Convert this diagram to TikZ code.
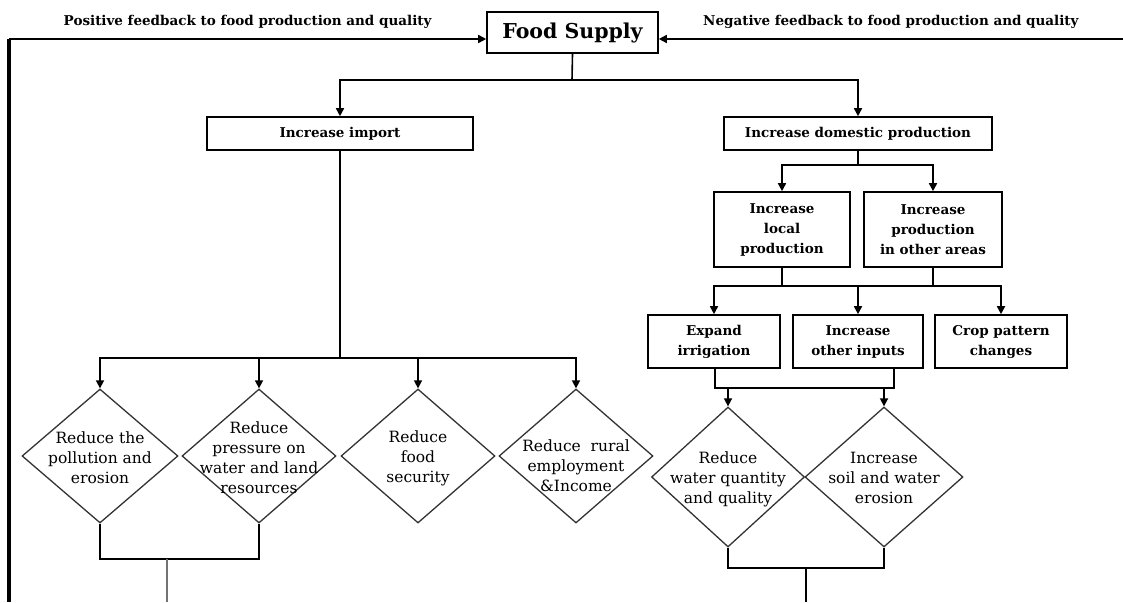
\documentclass[tikz,border=0pt]{standalone}
\usepackage{fontspec}
\setmainfont{DejaVu Serif}
\usetikzlibrary{shapes.geometric,arrows.meta,positioning}
\definecolor{stubgrey}{gray}{0.45}
\tikzset{
  box/.style={draw,line width=1.6pt,inner sep=0pt,align=center,font=\fontsize{13.5}{20}\selectfont\bfseries},
  dia/.style={draw=black!80,line width=1.3pt,diamond,inner sep=0pt},
  dtext/.style={inner sep=0pt,align=center,font=\fontsize{15.5}{20}\selectfont},
  fbtext/.style={inner sep=0pt,font=\fontsize{13.5}{15}\selectfont\bfseries},
  wire/.style={line width=1.6pt},
  arr/.style={wire,-{Triangle[length=8pt,width=8pt]}},
}
\begin{document}
\begin{tikzpicture}[x=1pt,y=-1pt]
	\useasboundingbox (0,0) rectangle (1123,602);

	\node[box,minimum width=171pt,minimum height=41pt,font=\fontsize{20.5}{24}\selectfont\bfseries] (food) at (572.5,32.5) {Food Supply};

	\coordinate (fbl) at (9,39);
	\coordinate (fbb) at (9,602);
	\coordinate (fbr) at (1123,39);
	\draw[line width=3.5pt] (fbb) -- (fbl);
	\draw[arr] (fbl) -- (fbl -| food.west) node[fbtext,midway,yshift=17pt] {Positive feedback to food production and quality};
	\draw[arr] (fbr) -- (fbr -| food.east) node[fbtext,midway,yshift=17pt] {Negative feedback to food production and quality};

	\node[box,minimum width=266pt,minimum height=33pt] (imp) at (340,133.5) {Increase import};
	\node[box,minimum width=268pt,minimum height=33pt] (dom) at (858,133.5) {Increase domestic production};
	\coordinate (br1) at (572,80);
	\draw[wire] (food.south) -- (br1);
	\draw[arr] (br1) -| (imp.north);
	\draw[arr] (br1) -| (dom.north);

	\node[box,minimum width=136pt,minimum height=75pt] (loc) at (782,229.5) {Increase\\local\\production};
	\node[box,minimum width=138pt,minimum height=75pt] (oth) at (933,229.5) {Increase\\production\\in other areas};
	\coordinate (br2) at (858,165);
	\draw[wire] (dom.south) -- (br2);
	\draw[arr] (br2) -| (loc.north);
	\draw[arr] (br2) -| (oth.north);

	\node[box,minimum width=132pt,minimum height=53pt] (irr) at (714,341.5) {Expand\\irrigation};
	\node[box,minimum width=130pt,minimum height=53pt] (inp) at (858,341.5) {Increase\\other inputs};
	\node[box,minimum width=132pt,minimum height=53pt] (crop) at (1001,341.5) {Crop pattern\\changes};
	\coordinate (br3) at (858,286);
	\draw[wire] (loc.south) -- (loc.south |- br3);
	\draw[wire] (oth.south) -- (oth.south |- br3);
	\draw[arr] (br3) -| (irr.north);
	\draw[arr] (br3) -- (inp.north);
	\draw[arr] (br3) -| (crop.north);

	\node[dia,minimum width=153pt,minimum height=140pt] (wq) at (728,477) {};
	\node[dia,minimum width=158pt,minimum height=140pt] (se) at (884,477) {};
	\node[dtext] (wqt) at (728,479) {Reduce\\water quantity\\and quality};
	\node[dtext] (set) at (884,478) {Increase\\soil and water\\erosion};
	\coordinate (jl) at (715,388);
	\coordinate (jr) at (894,388);
	\draw[wire] (irr.south -| jl) -- (jl) -- (jr) -- (inp.south -| jr);
	\draw[arr] (wq.north |- jl) -- (wq.north);
	\draw[arr] (se.north |- jr) -- (se.north);
	\coordinate (jb) at (806,568);
	\coordinate (jbe) at (806,602);
	\draw[wire] (wq.south) |- (jb) -| (se.south);
	\draw[wire] (jb) -- (jbe);

	\node[dia,minimum width=156pt,minimum height=134pt] (d1) at (100,456) {};
	\node[dia,minimum width=154pt,minimum height=134pt] (d2) at (259,456) {};
	\node[dia,minimum width=154pt,minimum height=134pt] (d3) at (418,456) {};
	\node[dia,minimum width=154pt,minimum height=134pt] (d4) at (576,456) {};
	\node[dtext] (d1t) at (100,458) {Reduce the\\pollution and\\erosion};
	\node[dtext] (d2t) at (259,458) {Reduce\\pressure on\\water and land\\resources};
	\node[dtext] (d3t) at (418,458) {Reduce\\food\\security};
	\node[dtext] (d4t) at (576,466) {Reduce\ \ rural\\employment\\\&Income};
	\coordinate (br4) at (341,358);
	\draw[wire] (imp.south) -- (imp.south |- br4);
	\draw[arr] (br4) -| (d1.north);
	\draw[arr] (br4) -| (d2.north);
	\draw[arr] (br4) -| (d3.north);
	\draw[arr] (br4) -| (d4.north);
	\coordinate (lb) at (167,559);
	\coordinate (lbe) at (167,602);
	\draw[wire] (d1.south) |- (lb) -| (d2.south);
	\draw[line width=2.5pt,stubgrey] (lb) -- (lbe);
\end{tikzpicture}
\end{document}
